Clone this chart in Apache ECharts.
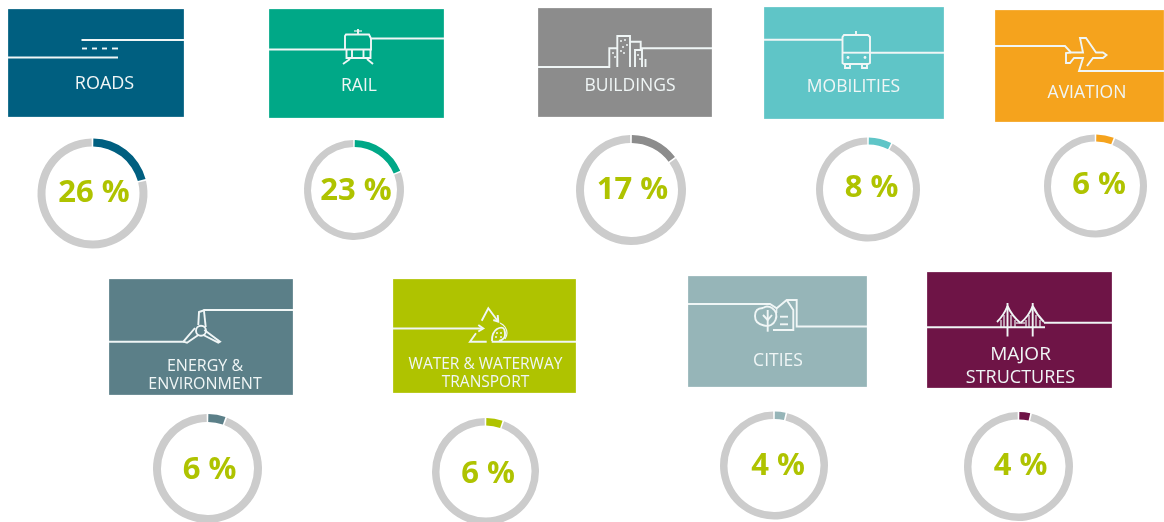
<!DOCTYPE html>
<html>
<head>
<meta charset="utf-8">
<style>
	html, body { margin: 0; padding: 0; background: #fff; }
	#chart { width: 1164px; height: 522px; }
</style>
<script src="https://cdn.jsdelivr.net/npm/echarts@6/dist/echarts.min.js"></script>
</head>
<body>
<div id="chart"></div>
<script>
	// values
	const sectorLabels = [
		["ROADS"], ["RAIL"], ["BUILDINGS"], ["MOBILITIES"], ["AVIATION"],
		["ENERGY &", "ENVIRONMENT"], ["WATER & WATERWAY", "TRANSPORT"], ["CITIES"], ["MAJOR", "STRUCTURES"],
	];
	const sectorNames = ["Roads", "Rail", "Buildings", "Mobilities", "Aviation", "Energy & environment", "Water & waterway transport", "Cities", "Major structures"];
	const percentLabels = ["26 %", "23 %", "17 %", "8 %", "6 %", "6 %", "6 %", "4 %", "4 %"];
	// the arcs in the picture are drawn shorter than the printed numbers, measured per ring
	const arcValues = [21, 19, 15, 7.6, 6, 5.6, 5.4, 3.7, 3.7];
	const sectorColors = ["#005f80", "#00a887", "#8c8c8c", "#5fc5c7", "#f5a31d", "#5b7f88", "#afc300", "#96b5b8", "#6e1446"];

	// layout: [x0, y0, x1, y1]
	const cardBoxes = [
		[8, 9, 184, 117], [269, 9, 444, 118], [538, 8, 712, 117], [764, 7, 944, 119], [995, 10, 1164, 122],
		[109, 279, 293, 395], [393, 279, 576, 393], [688, 276, 867, 387], [927, 272, 1112, 388],
	];
	// [cx, cy, outer radius, ring width]
	const ringBoxes = [
		[92.5, 193.5, 55, 8], [354, 190, 50, 7], [631, 190, 55, 8], [868, 189.5, 52, 7], [1095.5, 186, 51.5, 7],
		[207.5, 468.5, 54.5, 8], [485.5, 471.5, 53.5, 7.5], [774, 465.5, 54, 7.5], [1018.5, 466.5, 54.5, 7.5],
	];
	const percentSpots = [
		[94, 193], [356, 191], [632.5, 190], [871.5, 188], [1099, 185],
		[209.5, 470], [488, 474], [778, 466], [1020.5, 466],
	];
	// per card: x of the text centre, font size per line, y per line
	const labelSpots = [
		[104.5, [18], [84]], [359, [17.5], [86]], [630, [17.5], [86]], [853.5, [17.5], [87]], [1087, [17.5], [93]],
		[205, [16, 16], [366, 384]], [485.5, [15.5, 15.5], [365, 383]], [778, [17.5], [361]], [1020.5, [19, 18], [355, 378]],
	];

	const inkColor = "#f0f6f6";
	const ink = { stroke: inkColor, lineWidth: 1.9, fill: "none" };
	const thin = { stroke: inkColor, lineWidth: 1.2, fill: "none" };
	const dot = { stroke: inkColor, lineWidth: 1.5, fill: "none" };

	function pl(points, style, smooth) {
		return { type: "polyline", silent: true, shape: { points, smooth: smooth || 0 }, style: style || ink };
	}
	function circ(cx, cy, r, style) {
		return { type: "circle", silent: true, shape: { cx, cy, r }, style: style || ink };
	}
	function curve(x1, y1, cpx1, cpy1, x2, y2, style) {
		return { type: "bezierCurve", silent: true, shape: { x1, y1, cpx1, cpy1, x2, y2 }, style: style || ink };
	}

	// line art of each card, in picture pixels
	const cardIcons = [
		[
			pl([[81.5, 40], [184, 40]]), pl([[8, 57.5], [118, 57.5]]),
			pl([[82, 48.5], [87, 48.5]]), pl([[92, 48.5], [97, 48.5]]), pl([[102, 48.5], [107, 48.5]]), pl([[112, 48.5], [118, 48.5]]),
		],
		[
			pl([[269, 49.5], [345, 49.5]]), pl([[345, 49.5], [345, 36], [346, 34.5], [369, 34.5], [371, 38.5], [444, 38.5]]),
			pl([[371, 38.5], [371, 49.5], [345, 49.5]]), pl([[358, 29], [358, 34.5]]), pl([[354, 31], [362, 31]], thin),
			pl([[346.5, 49.5], [346.5, 58], [370.5, 58], [370.5, 49.5]]),
			pl([[352, 49.5], [352, 58]]), pl([[363.5, 49.5], [363.5, 58]]),
			pl([[343, 64], [350, 59]]), pl([[373, 64], [367, 59]]),
		],
		[
			pl([[538, 67], [609.3, 67], [609.3, 48.3], [617.3, 48.3]]),
			pl([[617.3, 67], [617.3, 36], [630, 36], [630, 67]]),
			pl([[630, 41.7], [640.7, 41.7], [640.7, 48.3], [712, 48.3]]),
			pl([[635, 67], [635, 50], [642, 50], [642, 67]]), pl([[645.5, 59], [645.5, 67]]),
			pl([[621, 40], [621, 42]], dot), pl([[625, 39], [625, 41]], dot), pl([[623, 46], [623, 48]], dot), pl([[627, 44], [627, 46]], dot),
			pl([[621, 50], [621, 52]], dot), pl([[624, 52], [624, 54]], dot), pl([[613, 52], [613, 54]], dot), pl([[615, 56], [615, 58]], dot),
			pl([[638, 54], [638, 56]], dot), pl([[640, 58], [640, 60]], dot),
		],
		[
			pl([[764, 39.7], [842.5, 39.7]]), pl([[870, 52.7], [944, 52.7]]),
			pl([[842.5, 39.7], [842.5, 37], [844, 35], [868, 35], [870, 37], [870, 63], [868, 64], [844, 64], [842.5, 63], [842.5, 39.7]]),
			pl([[856, 31], [856, 35]]), pl([[842.5, 52.7], [870, 52.7]]),
			pl([[845, 64], [845, 68], [850, 68], [850, 64]]), pl([[862, 64], [862, 68], [867, 68], [867, 64]]),
			circ(848, 57.5, 1.4, { fill: inkColor }), circ(865, 57.5, 1.4, { fill: inkColor }),
		],
		[
			pl([[995, 46], [1065, 46], [1071, 52.5], [1083, 52.5], [1080, 38], [1086, 38], [1096, 52.5], [1103, 52.5], [1106.5, 55], [1103, 58], [1093, 58], [1087, 66]]),
			pl([[1071, 52.5], [1066, 53], [1066, 63], [1070, 63], [1074, 58], [1083, 58], [1079, 71], [1164, 71]]),
		],
		[
			pl([[293, 310], [204, 310], [202, 311], [199, 312], [198.3, 325]]), pl([[204, 311], [205.7, 327]]),
			pl([[109, 341.7], [183.3, 341.7], [195, 328]]), pl([[183.3, 341.7], [187, 342.7], [198.3, 335]]),
			pl([[204.3, 330], [220, 341.7], [218.3, 342.7], [203.3, 335]]),
			circ(201, 330.7, 5),
		],
		[
			pl([[393, 328.5], [483, 328.5]]), pl([[478.3, 325], [483.3, 328.5], [478.3, 331.5]]),
			pl([[491.7, 341.7], [576, 341.7]]),
			pl([[481.7, 320.7], [488.3, 308.3], [498.3, 321.7]]), pl([[493.3, 320], [498.3, 321.7], [497.7, 315]]),
			pl([[476, 333.3], [470, 341.7], [486.7, 341.7]]),
			pl([[492, 341], [493, 334], [497, 329], [503, 328], [505, 333], [504, 338], [499, 341]], ink, 0.5),
			pl([[500, 323], [505, 327], [507, 333], [505, 339]], thin, 0.5),
			pl([[495, 337], [497, 337]], dot), pl([[500, 333], [502, 333]], dot), pl([[496, 333], [498, 333]], dot), pl([[500, 337], [502, 337]], dot),
		],
		[
			pl([[688, 304], [770, 304], [776.7, 308.3], [786.7, 300], [796.7, 300], [796.7, 326.5], [867, 326.5]]),
			pl([[786.7, 300], [793.3, 310], [793.3, 330], [773, 330]]), pl([[776.7, 308.3], [776.7, 313]], thin),
			pl([[763, 308], [767, 306.5], [772, 308], [776, 313], [775.5, 320], [771, 325], [764, 325.5], [757, 322], [755, 316], [757, 310], [763, 308]], ink, 0.4),
			pl([[767.7, 310], [767.7, 331.7]]), pl([[763, 315], [767.7, 320], [772, 315]]),
			pl([[780, 316.7], [788, 316.7]]), pl([[780, 324.3], [788, 324.3]]),
		],
		[
			pl([[927, 327.3], [1045, 327.3]]), pl([[1044, 322.7], [1112, 322.7]]),
			pl([[1007.5, 303], [1007.5, 336.5]]), pl([[1032.7, 303], [1032.7, 336.5]]),
			curve(1007.5, 306, 1004, 315, 997, 322), curve(1007.5, 306, 1012, 316, 1020.5, 323),
			curve(1032.7, 306, 1029, 316, 1020.5, 323), curve(1032.7, 306, 1037, 315, 1044, 322),
			pl([[1016, 323], [1025, 323]], thin),
			pl([[1001, 320], [1001, 327]], thin), pl([[1004, 315], [1004, 327]], thin), pl([[1011, 315], [1011, 327]], thin), pl([[1015, 320], [1015, 327]], thin),
			pl([[1026, 320], [1026, 327]], thin), pl([[1029, 315], [1029, 327]], thin), pl([[1036, 315], [1036, 327]], thin), pl([[1040, 320], [1040, 327]], thin),
		],
	];

	const chart = echarts.init(document.getElementById("chart"), null, { renderer: "canvas" });

	const elements = [];
	cardBoxes.forEach((box, i) => {
		elements.push({
			type: "rect",
			silent: true,
			shape: { x: box[0], y: box[1], width: box[2] - box[0], height: box[3] - box[1] },
			style: { fill: sectorColors[i], stroke: "rgba(255,255,255,0.25)", lineWidth: 1 },
		});
		cardIcons[i].forEach((el) => elements.push(el));
		sectorLabels[i].forEach((line, k) => {
			elements.push({
				type: "text",
				silent: true,
				x: labelSpots[i][0],
				y: labelSpots[i][2][k],
				style: {
					text: line,
					fill: inkColor,
					fontFamily: "'Open Sans', sans-serif",
					fontSize: labelSpots[i][1][k],
					align: "center",
					verticalAlign: "middle",
				},
			});
		});
		elements.push({
			type: "text",
			silent: true,
			x: percentSpots[i][0],
			y: percentSpots[i][1],
			style: {
				text: percentLabels[i],
				fill: "#afc300",
				fontFamily: "'Open Sans', sans-serif",
				fontWeight: "bold",
				fontSize: 31,
				align: "center",
				verticalAlign: "middle",
			},
		});
	});

	chart.setOption({
		animation: false,
		graphic: { elements },
		series: arcValues.map((value, i) => ({
			type: "pie",
			silent: true,
			center: [ringBoxes[i][0], ringBoxes[i][1]],
			radius: [ringBoxes[i][2] - ringBoxes[i][3], ringBoxes[i][2]],
			startAngle: 90,
			padAngle: 1.8,
			label: { show: false },
			labelLine: { show: false },
			data: [
				{ name: sectorNames[i], value, itemStyle: { color: sectorColors[i] } },
				{ name: "rest", value: 100 - value, itemStyle: { color: "#cccccc" } },
			],
		})),
	});
</script>
</body>
</html>
